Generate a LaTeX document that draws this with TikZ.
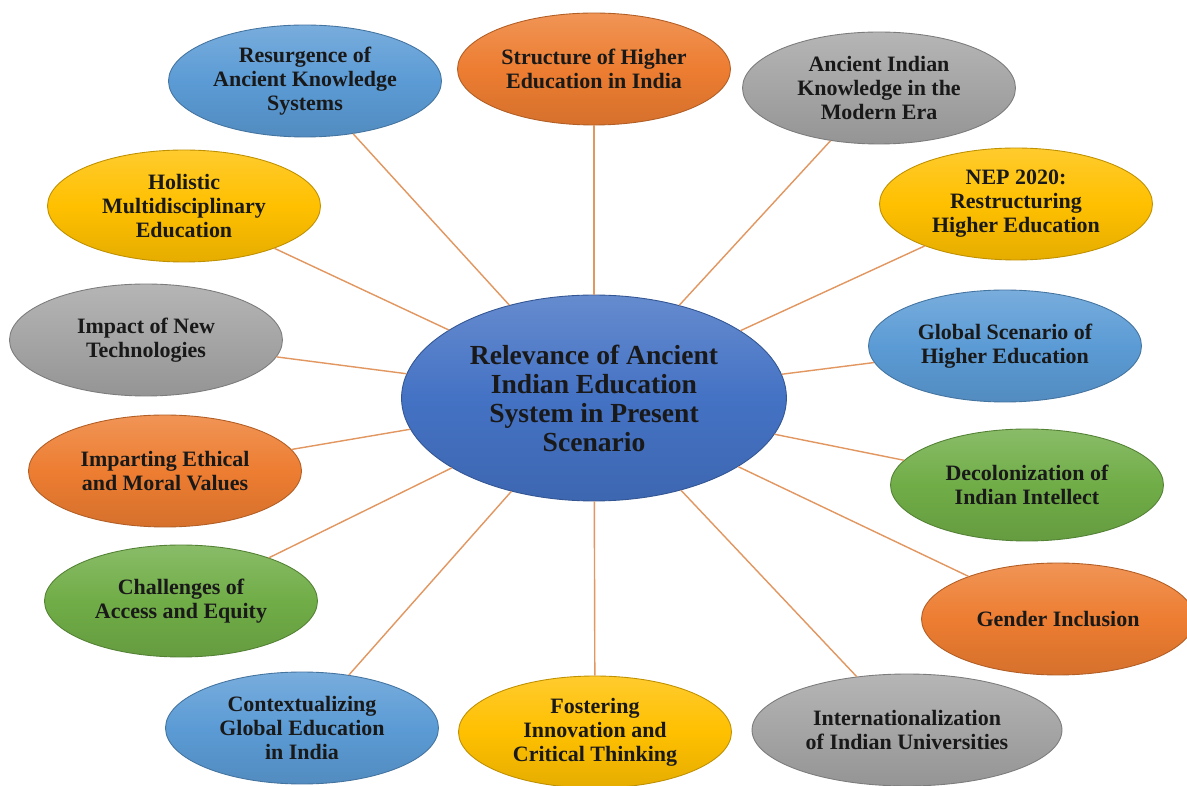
\documentclass[tikz,border=0pt]{standalone}
\usepackage{fontspec}
\setmainfont{Liberation Serif}
\usetikzlibrary{shapes.geometric}

\definecolor{hubblue}{RGB}{68,114,196}
\definecolor{skyblue}{RGB}{91,155,213}
\definecolor{orng}{RGB}{237,125,49}
\definecolor{grey}{RGB}{165,165,165}
\definecolor{gold}{RGB}{255,192,0}
\definecolor{leaf}{RGB}{112,173,71}
\definecolor{linkline}{RGB}{226,150,96}

\tikzset{
	topic/.style={ellipse, inner sep=0pt, minimum width=5.46cm, minimum height=2.24cm,
		align=center, text=black!90, font=\bfseries\fontsize{12.5}{13.7}\selectfont,
		draw=#1!75!black, line width=0.5pt,
		top color=#1!82!white, bottom color=#1!90!black, middle color=#1},
	hub/.style={topic=hubblue, minimum width=7.7cm, minimum height=4.12cm,
		font=\bfseries\fontsize{15.7}{16.5}\selectfont},
	link/.style={draw=linkline, line width=0.8pt}
}

\begin{document}
\begin{tikzpicture}[x=0.02cm, y=-0.02cm]
	\useasboundingbox (0,0) rectangle (1187,786);
	\fill[white] (0,0) rectangle (1187,786);
	\clip (0,0) rectangle (1187,786);

	\node[hub] (centre) at (594,398) {Relevance of Ancient\\Indian Education\\System in Present\\Scenario};

	\node[topic=skyblue] (resurgence) at (305,81) {Resurgence of\\Ancient Knowledge\\Systems};
	\node[topic=orng] (structure) at (594,69) {Structure of Higher\\Education in India};
	\node[topic=grey] (ancient) at (879,88) {Ancient Indian\\Knowledge in the\\Modern Era};
	\node[topic=gold] (nep) at (1016,204) {NEP 2020:\\Restructuring\\Higher Education};
	\node[topic=skyblue] (global) at (1005,346) {Global Scenario of\\Higher Education};
	\node[topic=leaf] (decolon) at (1027,485) {Decolonization of\\Indian Intellect};
	\node[topic=orng] (gender) at (1058,619) {Gender Inclusion};
	\node[topic=grey, minimum width=6.2cm] (internat) at (907,730) {Internationalization\\of Indian Universities};
	\node[topic=gold] (fostering) at (595,732) {Fostering\\Innovation and\\Critical Thinking};
	\node[topic=skyblue] (context) at (302,728) {Contextualizing\\Global Education\\in India};
	\node[topic=leaf] (access) at (181,601) {Challenges of\\Access and Equity};
	\node[topic=orng] (ethics) at (165,471) {Imparting Ethical\\and Moral Values};
	\node[topic=grey] (tech) at (146,340) {Impact of New\\Technologies};
	\node[topic=gold] (holistic) at (184,206) {Holistic\\Multidisciplinary\\Education};

	\foreach \n in {resurgence,structure,ancient,nep,global,decolon,gender,internat,fostering,context,access,ethics,tech,holistic}
		\draw[link] (centre) -- (\n);
\end{tikzpicture}
\end{document}
